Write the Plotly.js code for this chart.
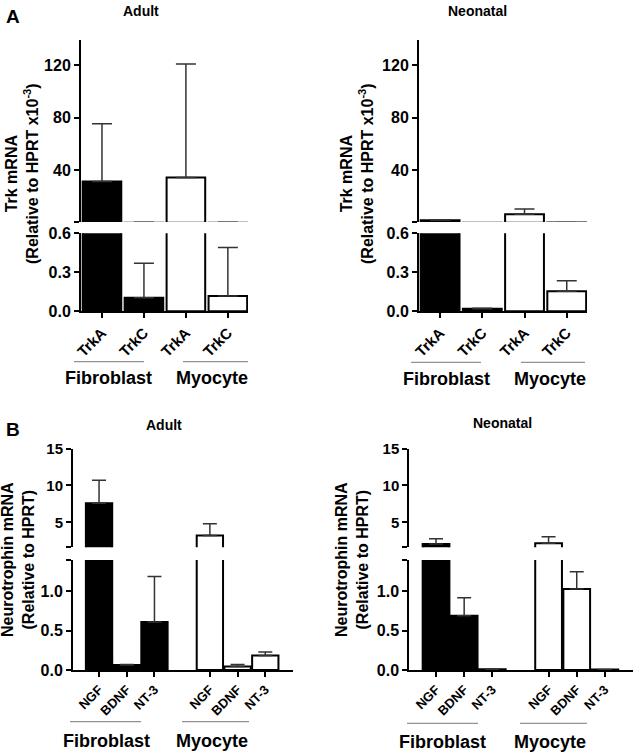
<!DOCTYPE html>
<html>
<head>
<meta charset="utf-8">
<script src="https://cdn.plot.ly/plotly-3.0.1.min.js"></script>
<style>html,body{margin:0;padding:0;background:#fff;}#chart{width:637px;height:756px;}</style>
</head>
<body>
<div id="chart"></div>
<script>
// ---------- data ----------
const trkCategories = ['TrkA', 'TrkC'];
const ntCategories = ['NGF', 'BDNF', 'NT-3'];
const groupNames = ['Fibroblast', 'Myocyte'];

// Panel A (Trk mRNA, relative to HPRT x10^-3)
const adultTrkFibroblast = [31.5, 0.105];
const adultTrkFibroblastErr = [44, 0.265];
const adultTrkMyocyte = [34.5, 0.118];
const adultTrkMyocyteErr = [86.5, 0.372];

const neoTrkFibroblast = [2.0, 0.02];
const neoTrkFibroblastErr = [0.3, 0.003];
const neoTrkMyocyte = [6.5, 0.155];
const neoTrkMyocyteErr = [4.0, 0.08];

// Panel B (Neurotrophin mRNA, relative to HPRT)
const adultNtFibroblast = [7.6, 0.065, 0.61];
const adultNtFibroblastErr = [3.1, 0.005, 0.58];
const adultNtMyocyte = [3.2, 0.045, 0.185];
const adultNtMyocyteErr = [1.6, 0.025, 0.045];

const neoNtFibroblast = [2.05, 0.69, 0.01];
const neoNtFibroblastErr = [0.72, 0.23, 0.002];
const neoNtMyocyte = [2.15, 1.03, 0.005];
const neoNtMyocyteErr = [0.9, 0.22, 0.001];

// ---------- helpers ----------
const W = 637, H = 756;
const fx = p => p / W;
const fy = p => 1 - p / H;
const FONT = 'Arial, "Liberation Sans", sans-serif';

function positions(cats, gap) {
  const fib = cats.map((c, i) => i);
  const myo = cats.map((c, i) => cats.length + gap + i);
  return {fib, myo, all: fib.concat(myo), labels: cats.concat(cats)};
}

function barTrace(x, y, err, xa, ya, fill, width, capw) {
  return {
    type: 'bar', x: x, y: y, xaxis: xa, yaxis: ya, width: width,
    marker: {color: fill, line: {color: '#000', width: 2}},
    error_y: {type: 'data', array: err, arrayminus: err.map(() => 0), symmetric: false,
              color: '#333', thickness: 1.5, width: capw},
    hoverinfo: 'skip', showlegend: false
  };
}

const traces = [];
function panel(cats, gap, fibV, fibE, myoV, myoE, xa, yb, yt, width, capw) {
  const p = positions(cats, gap);
  [yb, yt].forEach(ya => {
    traces.push(barTrace(p.fib, fibV, fibE, xa, ya, '#000', width, capw));
    traces.push(barTrace(p.myo, myoV, myoE, xa, ya, '#fff', width, capw));
  });
  return p;
}

const pA1 = panel(trkCategories, 0, adultTrkFibroblast, adultTrkFibroblastErr, adultTrkMyocyte, adultTrkMyocyteErr, 'x', 'y', 'y2', 0.92, 10);
const pA2 = panel(trkCategories, 0, neoTrkFibroblast, neoTrkFibroblastErr, neoTrkMyocyte, neoTrkMyocyteErr, 'x2', 'y3', 'y4', 0.92, 10);
const pB1 = panel(ntCategories, 1, adultNtFibroblast, adultNtFibroblastErr, adultNtMyocyte, adultNtMyocyteErr, 'x3', 'y5', 'y6', 0.95, 7);
const pB2 = panel(ntCategories, 1, neoNtFibroblast, neoNtFibroblastErr, neoNtMyocyte, neoNtMyocyteErr, 'x4', 'y7', 'y8', 0.95, 7);

const tf = s => ({family: FONT, size: s, color: '#000', weight: 'bold'});
const axisBase = {showline: true, linecolor: '#000', linewidth: 2, ticks: 'outside', ticklen: 5,
                  tickwidth: 2, tickcolor: '#000', showgrid: false, zeroline: false, fixedrange: true};

function xAxis(domPx, anchor, range, p, fs) {
  return Object.assign({}, axisBase, {domain: [fx(domPx[0]), fx(domPx[1])], anchor: anchor,
    range: range, tickmode: 'array', tickvals: p.all, ticktext: p.labels, tickangle: -45,
    tickfont: tf(fs)});
}
function yAxis(domPx, anchor, range, vals, text, fs) {
  return Object.assign({}, axisBase, {domain: [fy(domPx[1]), fy(domPx[0])], anchor: anchor,
    range: range, tickmode: 'array', tickvals: vals, ticktext: text, tickfont: tf(fs)});
}

const layout = {
  width: W, height: H, margin: {l: 0, r: 0, t: 0, b: 0},
  paper_bgcolor: '#fff', plot_bgcolor: 'rgba(0,0,0,0)',
  barmode: 'overlay', showlegend: false,
  font: {family: FONT, color: '#000'},
  xaxis: xAxis([81, 248], 'y', [-0.5, 3.48], pA1, 15),
  yaxis: yAxis([233.3, 311.3], 'x', [0, 0.6], [0, 0.3, 0.6], ['0.0', '0.3', '0.6'], 16),
  yaxis2: yAxis([40, 222], 'x', [0.6, 139.3], [0.6, 40, 80, 120], ['', '40', '80', '120'], 16),
  xaxis2: xAxis([419, 587], 'y3', [-0.5, 3.48], pA2, 15),
  yaxis3: yAxis([233.3, 311.3], 'x2', [0, 0.6], [0, 0.3, 0.6], ['0.0', '0.3', '0.6'], 16),
  yaxis4: yAxis([40, 222], 'x2', [0.6, 139.3], [0.6, 40, 80, 120], ['', '40', '80', '120'], 16),
  xaxis3: xAxis([73, 293], 'y5', [-0.94, 7.0], pB1, 13),
  yaxis5: yAxis([560, 670], 'x3', [0, 1.4], [0, 0.5, 1.0, 1.4], ['0.0', '0.5', '1.0', ''], 16),
  yaxis6: yAxis([448.7, 547.3], 'x3', [1.6, 15], [1.6, 5, 10, 15], ['', '5', '10', '15'], 15),
  xaxis4: xAxis([409.3, 633], 'y7', [-0.95, 7.0], pB2, 13),
  yaxis7: yAxis([560, 670], 'x4', [0, 1.4], [0, 0.5, 1.0, 1.4], ['0.0', '0.5', '1.0', ''], 16),
  yaxis8: yAxis([448.7, 547.3], 'x4', [1.6, 15], [1.6, 5, 10, 15], ['', '5', '10', '15'], 15),
  annotations: [],
  shapes: []
};

function txt(text, x, y, size, extra) {
  layout.annotations.push(Object.assign({text: text, x: fx(x), y: fy(y), xref: 'paper', yref: 'paper',
    showarrow: false, xanchor: 'center', yanchor: 'middle',
    font: {family: FONT, size: size, color: '#000', weight: 'bold'}}, extra || {}));
}
function hline(x0, x1, y) {
  layout.shapes.push({type: 'line', xref: 'paper', yref: 'paper', x0: fx(x0), x1: fx(x1), y0: fy(y), y1: fy(y),
    line: {color: '#777', width: 1}});
}

// panel letters and titles
txt('A', 13, 17, 19);
txt('B', 13, 429, 19);
txt('Adult', 141, 11, 14);
txt('Neonatal', 477, 11, 14);
txt('Adult', 164, 425, 14);
txt('Neonatal', 502, 423, 14);

// y titles
txt('Trk mRNA<br>(Relative to HPRT x10<sup>-3</sup>)', 22, 174, 16, {textangle: -90});
txt('Trk mRNA<br>(Relative to HPRT x10<sup>-3</sup>)', 357, 174, 16, {textangle: -90});
txt('Neurotrophin mRNA<br>(Relative to HPRT)', 18, 560, 16, {textangle: -90});
txt('Neurotrophin mRNA<br>(Relative to HPRT)', 352, 560, 16, {textangle: -90});

// group underlines + labels
hline(74, 144, 361.7); hline(183, 248, 361.7);
txt(groupNames[0], 108, 378, 18); txt(groupNames[1], 212, 378, 18);
hline(411, 481, 362.3); hline(521, 585, 362.3);
txt(groupNames[0], 446, 379, 18); txt(groupNames[1], 550, 379, 18);
hline(70, 141, 721.7); hline(182, 249, 721.7);
txt(groupNames[0], 106, 741, 18); txt(groupNames[1], 212, 741, 18);
hline(407, 478, 723.3); hline(520, 587, 723.3);
txt(groupNames[0], 442, 742, 18); txt(groupNames[1], 550, 742, 18);

Plotly.newPlot('chart', traces, layout, {displayModeBar: false, staticPlot: true});
</script>
</body>
</html>
